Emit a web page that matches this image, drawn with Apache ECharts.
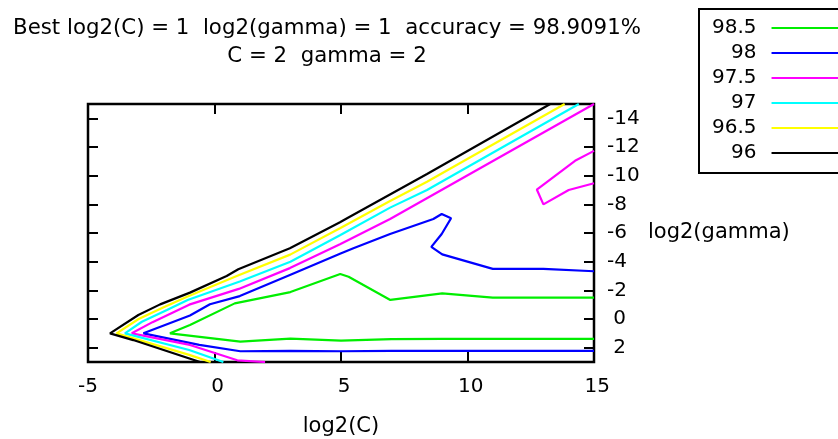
<!DOCTYPE html>
<html>
<head>
<meta charset="utf-8">
<script src="https://cdn.jsdelivr.net/npm/echarts@6/dist/echarts.min.js"></script>
<style>
  html, body { margin: 0; padding: 0; background: #fff; }
  #chart { width: 838px; height: 439px; }
</style>
</head>
<body>
<div id="chart"></div>
<script>
// ---- data ----
const titleLines = ['Best log2(C) = 1  log2(gamma) = 1  accuracy = 98.9091%', 'C = 2  gamma = 2'];
const levels = ['98.5', '98', '97.5', '97', '96.5', '96'];
const xTicks = [-5, 0, 5, 10, 15];
const yTicks = [-14, -12, -10, -8, -6, -4, -2, 0, 2];

// contour polylines: [log2(C), log2(gamma)]
const c985 = [[15,-1.49],[13,-1.49],[11,-1.49],[9,-1.79],[6.95,-1.33],[5.3,-2.95],[4.97,-3.14],[3,-1.88],[0.8,-1.09],[-0.97,0.42],[-1.76,1.0],[1.02,1.58],[3,1.37],[5,1.51],[7,1.4],[9,1.38],[11,1.38],[13,1.38],[15,1.38]];
const c98 = [[15,-3.33],[13,-3.5],[11,-3.5],[9,-4.51],[8.57,-5.03],[8.98,-5.93],[9.35,-7.03],[8.98,-7.33],[8.65,-6.98],[6.94,-5.93],[5.49,-4.93],[4.96,-4.55],[2.98,-3.07],[1.0,-1.6],[-0.18,-1.03],[-0.97,-0.25],[-2.81,1.0],[-0.6,1.8],[1.02,2.25],[3,2.22],[5,2.25],[7,2.22],[9,2.22],[11,2.22],[13,2.22],[15,2.22]];
const c975 = [[15,-15],[6.94,-6.98],[4.96,-5.22],[2.98,-3.55],[0.96,-2.1],[-1.0,-1.0],[-2.45,0.22],[-3.27,1.0],[-0.97,1.81],[0.9,2.88],[2.0,3.0]];
const c975b = [[15,-11.73],[14.25,-11.04],[12.74,-9.03],[13.0,-8.0],[14.0,-9.0],[15,-9.47]];
const c97 = [[14.4,-15],[8.4,-9.0],[6.94,-7.77],[4.96,-5.84],[3.0,-4.0],[1.0,-2.62],[-1.06,-1.33],[-1.88,-0.63],[-2.87,0.19],[-3.54,1.0],[-1.0,2.16],[0.35,3.0]];
const c965 = [[13.84,-15],[8.4,-9.58],[6.94,-8.23],[4.96,-6.33],[2.99,-4.49],[0.88,-3.0],[-1.04,-1.58],[-2.01,-0.82],[-3.0,0.0],[-3.87,1.0],[-1.0,2.5],[-0.15,3.0]];
const c96 = [[13.27,-15],[8.4,-10.12],[5.24,-7.03],[4.96,-6.75],[2.98,-4.93],[0.94,-3.47],[0.48,-3.0],[-0.97,-1.84],[-2.15,-1.02],[-3.01,-0.28],[-4.13,1.0],[-3.21,1.47],[-0.57,3.0]];

const levelColors = ['#00ee00', '#0000ff', '#ff00ff', '#00ffff', '#ffff00', '#000000'];
const FONT = 'DejaVu Sans';

const contourSets = [
  { name: levels[0], color: levelColors[0], data: c985 },
  { name: levels[1], color: levelColors[1], data: c98 },
  { name: levels[2], color: levelColors[2], data: c975 },
  { name: levels[2], color: levelColors[2], data: c975b },
  { name: levels[3], color: levelColors[3], data: c97 },
  { name: levels[4], color: levelColors[4], data: c965 },
  { name: levels[5], color: levelColors[5], data: c96 }
];

const pad = v => (v >= 0 ? ' ' + v : String(v));

const tickStyle = { inside: true, length: 10, lineStyle: { color: '#000', width: 2 } };

const chart = echarts.init(document.getElementById('chart'), null, { renderer: 'canvas' });
chart.setOption({
  animation: false,
  backgroundColor: '#fff',
  title: {
    text: titleLines.join('\n'),
    left: 322,
    top: 9,
    textAlign: 'center',
    textStyle: { fontFamily: FONT, fontSize: 21.3, fontWeight: 'normal', color: '#000', lineHeight: 28 }
  },
  legend: {
    orient: 'vertical',
    left: 699,
    top: 9,
    align: 'right',
    icon: 'rect',
    itemWidth: 80,
    itemHeight: 2,
    itemGap: 5,
    padding: [9, 10, 10, 13],
    borderColor: '#000',
    borderWidth: 2,
    selectedMode: false,
    data: levels,
    textStyle: { fontFamily: FONT, fontSize: 20, color: '#000', padding: [0, 10, 0, 0] }
  },
  grid: {
    left: 88, right: 244, top: 104, bottom: 77,
    outerBoundsMode: 'none',
    containLabel: false,
    show: true, borderColor: '#000', borderWidth: 2.5, backgroundColor: 'transparent'
  },
  xAxis: [
    {
      type: 'value', position: 'bottom', min: -5, max: 15, interval: 5,
      axisLine: { show: false, onZero: false },
      axisTick: tickStyle,
      axisLabel: { fontFamily: FONT, fontSize: 20, color: '#000', margin: 15, formatter: pad, customValues: xTicks },
      splitLine: { show: false },
      name: 'log2(C)', nameLocation: 'middle', nameGap: 54,
      nameTextStyle: { fontFamily: FONT, fontSize: 21, color: '#000' }
    },
    {
      type: 'value', position: 'top', min: -5, max: 15, interval: 5,
      axisLine: { show: false, onZero: false },
      axisTick: tickStyle,
      axisLabel: { show: false },
      splitLine: { show: false }
    }
  ],
  yAxis: [
    {
      type: 'value', position: 'right', inverse: true, min: -15, max: 3,
      axisLine: { show: false, onZero: false },
      axisTick: Object.assign({ customValues: yTicks }, tickStyle),
      axisLabel: { fontFamily: FONT, fontSize: 20, color: '#000', margin: 13, customValues: yTicks, formatter: pad, padding: [6, 0, 0, 0] },
      splitLine: { show: false },
      name: 'log2(gamma)', nameLocation: 'middle', nameGap: 54, nameRotate: 0,
      nameTextStyle: { fontFamily: FONT, fontSize: 21, color: '#000' }
    },
    {
      type: 'value', position: 'left', inverse: true, min: -15, max: 3,
      axisLine: { show: false, onZero: false },
      axisTick: Object.assign({ customValues: yTicks }, tickStyle),
      axisLabel: { show: false },
      splitLine: { show: false }
    }
  ],
  series: contourSets.map(s => ({
    type: 'line',
    name: s.name,
    xAxisIndex: 0,
    yAxisIndex: 0,
    data: s.data,
    color: s.color,
    symbol: 'none',
    clip: true,
    lineStyle: { color: s.color, width: 2.2 },
    emphasis: { disabled: true }
  }))
});
</script>
</body>
</html>
